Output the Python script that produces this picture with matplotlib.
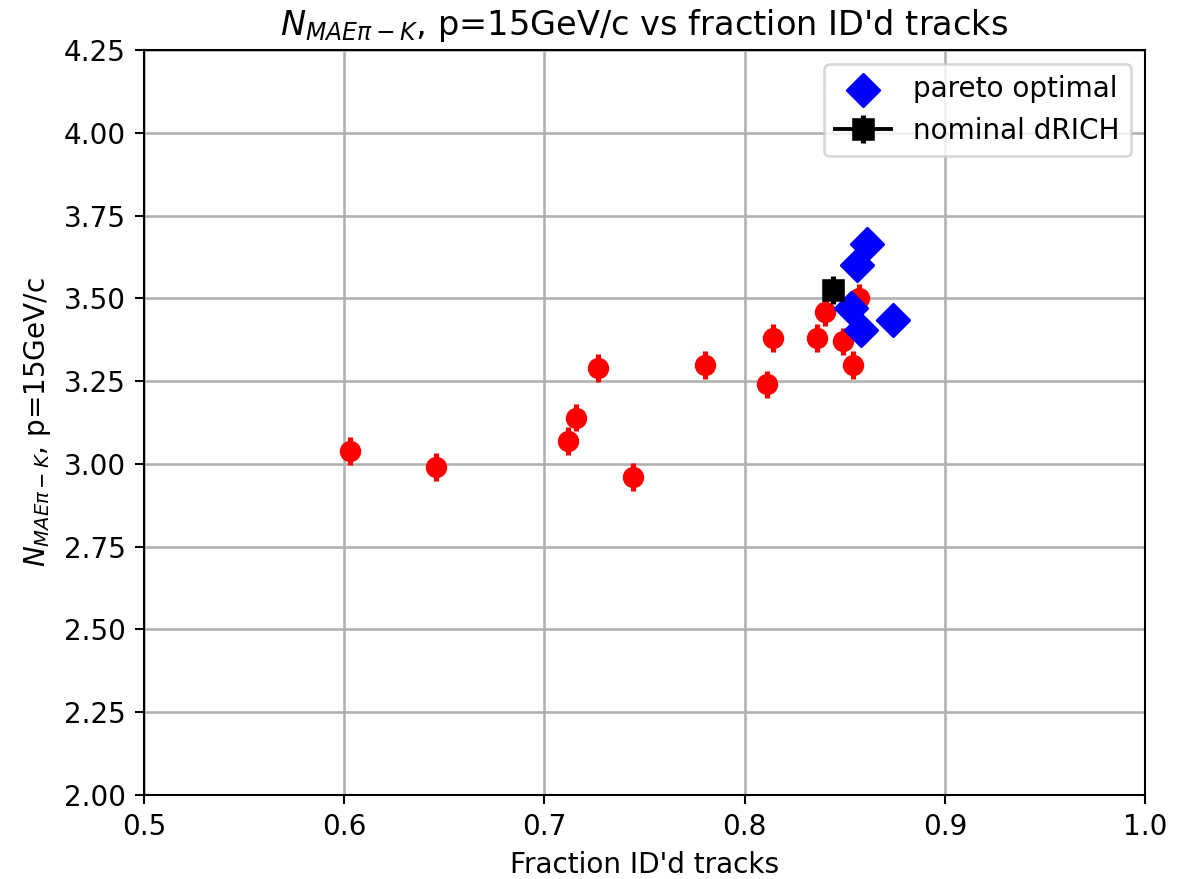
import matplotlib
matplotlib.use("Agg")
import matplotlib.pyplot as plt

# Scanned detector configurations
frac_all = [0.603, 0.646, 0.712, 0.716, 0.727, 0.744, 0.780, 0.811, 0.814,
            0.836, 0.840, 0.849, 0.854, 0.857]
nmae_all = [3.04, 2.99, 3.07, 3.14, 3.29, 2.96, 3.30, 3.24, 3.38,
            3.38, 3.46, 3.37, 3.30, 3.50]
err_all = [0.042] * len(frac_all)

# Pareto-optimal configurations
frac_pareto = [0.861, 0.856, 0.853, 0.858, 0.874]
nmae_pareto = [3.665, 3.60, 3.47, 3.405, 3.435]
err_pareto = [0.042] * len(frac_pareto)

# Nominal dRICH design
frac_nominal = [0.844]
nmae_nominal = [3.525]
err_nominal = [0.042]

DPI = 186
plt.rcParams['font.size'] = 10.8
plt.rcParams['axes.titlesize'] = 13

fig = plt.figure(figsize=(1193 / DPI, 879 / DPI), dpi=DPI)
ax = fig.add_axes([0.1207, 0.0956, 0.8391, 0.8474])

ax.errorbar(frac_all, nmae_all, yerr=err_all, fmt='o', color='red',
            ms=7.3, elinewidth=2, zorder=3)
ax.errorbar(frac_pareto, nmae_pareto, yerr=err_pareto, fmt='none',
            ecolor='blue', elinewidth=2, zorder=4)
ax.scatter(frac_pareto, nmae_pareto, marker='D', s=80, color='blue',
           zorder=5, label='pareto optimal')
ax.errorbar(frac_nominal, nmae_nominal, yerr=err_nominal, fmt='s-',
            color='black', ms=7.5, elinewidth=2, zorder=6, label='nominal dRICH')

ax.set_xlim(0.5, 1.0)
ax.set_ylim(2.0, 4.25)
ax.set_yticks([2.00, 2.25, 2.50, 2.75, 3.00, 3.25, 3.50, 3.75, 4.00, 4.25])
ax.grid(True, color='#b0b0b0', linewidth=1.0)
ax.set_axisbelow(True)

ax.set_xlabel("Fraction ID'd tracks")
ax.set_ylabel(r"$N_{MAE\pi-K}$, p=15GeV/c")
ax.set_title(r"$N_{MAE\pi-K}$, p=15GeV/c vs fraction ID'd tracks")
ax.legend(loc='upper right')

fig.savefig("out.png", dpi=DPI)
